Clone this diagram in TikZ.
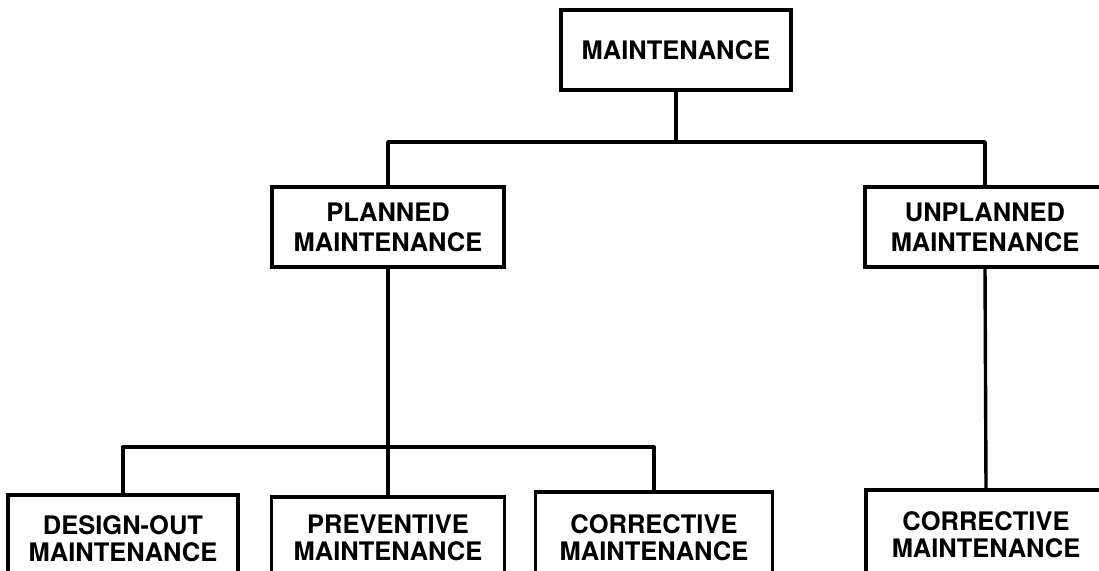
\documentclass[tikz,border=0pt]{standalone}
\usepackage{fontspec}
\setmainfont{TeX Gyre Heros}
\begin{document}
\begin{tikzpicture}[x=1pt,y=-1pt,
  box/.style={draw,line width=3.4pt,rectangle,align=center,inner sep=0pt,
    font=\bfseries\fontsize{25.5}{30}\selectfont},
  lowbox/.style={box,font=\bfseries\fontsize{25.5}{27}\selectfont},
  link/.style={line width=3.4pt,line join=round}]
\useasboundingbox (0,0) rectangle (1099,570);
\clip (0,0) rectangle (1099,570);
\node[box,minimum width=230pt,minimum height=80pt] (root) at (676,50) {MAINTENANCE};
\node[box,minimum width=232pt,minimum height=80pt] (planned) at (388,227) {PLANNED\\MAINTENANCE};
\node[box,minimum width=240pt,minimum height=80pt] (unplanned) at (985,227) {UNPLANNED\\MAINTENANCE};
\node[lowbox,minimum width=230pt,minimum height=88pt] (design) at (123,539) {DESIGN-OUT\\MAINTENANCE};
\node[lowbox,minimum width=233pt,minimum height=82pt] (preventive) at (388,538) {PREVENTIVE\\MAINTENANCE};
\node[lowbox,minimum width=237pt,minimum height=92pt] (corrA) at (654,538) {CORRECTIVE\\MAINTENANCE};
\node[lowbox,minimum width=240pt,minimum height=90pt] (corrB) at (986,535) {CORRECTIVE\\MAINTENANCE};
\coordinate (j1) at (676,142);
\coordinate (j2) at (388,447);
\draw[link] (root.south) -- (j1);
\draw[link] (planned.north) |- (j1) -| (unplanned.north);
\draw[link] (planned.south) -- (preventive.north);
\draw[link] (design.north) |- (j2) -| (corrA.north);
\draw[link] (unplanned.south) -- (corrB.north);
\end{tikzpicture}
\end{document}
